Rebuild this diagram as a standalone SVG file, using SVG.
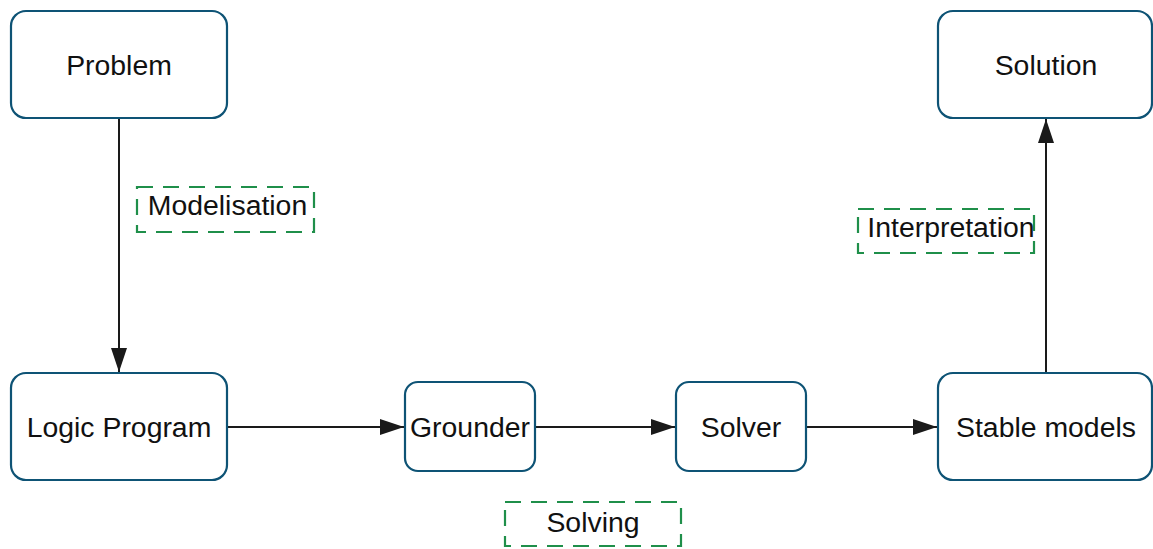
<svg xmlns="http://www.w3.org/2000/svg" width="1153" height="549" viewBox="0 0 1153 549">
<style>
.node{fill:#ffffff;stroke:#0e5375;stroke-width:2.2}
.lbl{fill:none;stroke:#1f8f4a;stroke-width:2.2;stroke-dasharray:16 10}
.t{font-family:"Liberation Sans",Arial,sans-serif;font-size:28.4px;fill:#111111;text-anchor:middle}
.edge{fill:none;stroke:#1a1a1a;stroke-width:2}
</style>
<defs>
<marker id="arr" markerUnits="userSpaceOnUse" markerWidth="24" markerHeight="16" refX="24" refY="8" orient="auto">
<path d="M0 0 L24 8 L0 16 Z" fill="#1a1a1a"/>
</marker>
</defs>
<rect width="1153" height="549" fill="#ffffff"/>
<g id="connectors">
<path class="edge" d="M119 119 V372" marker-end="url(#arr)"/>
<path class="edge" d="M228 427 H404" marker-end="url(#arr)"/>
<path class="edge" d="M535 427 H675" marker-end="url(#arr)"/>
<path class="edge" d="M806 427 H937" marker-end="url(#arr)"/>
<path class="edge" d="M1046 372 V119" marker-end="url(#arr)"/>
</g>
<g id="problem"><rect class="node" x="11" y="11" width="216" height="107" rx="15"/><text class="t" x="119" y="75">Problem</text></g>
<g id="solution"><rect class="node" x="938" y="11" width="214" height="107" rx="15"/><text class="t" x="1046" y="75">Solution</text></g>
<g id="logic-program"><rect class="node" x="11" y="373" width="216" height="107" rx="15"/><text class="t" x="119" y="437">Logic Program</text></g>
<g id="grounder"><rect class="node" x="405" y="382" width="130" height="89" rx="13"/><text class="t" x="470" y="437">Grounder</text></g>
<g id="solver"><rect class="node" x="676" y="382" width="130" height="89" rx="13"/><text class="t" x="741" y="437">Solver</text></g>
<g id="stable-models"><rect class="node" x="938" y="373" width="214" height="107" rx="15"/><text class="t" x="1046" y="437">Stable models</text></g>
<g id="label-modelisation"><rect class="lbl" x="137" y="187" width="177" height="45"/><text class="t" x="227.5" y="215">Modelisation</text></g>
<g id="label-interpretation"><rect class="lbl" x="858" y="209" width="176" height="44"/><text class="t" x="951" y="237">Interpretation</text></g>
<g id="label-solving"><rect class="lbl" x="505" y="502" width="176" height="44"/><text class="t" x="593" y="532">Solving</text></g>
</svg>
